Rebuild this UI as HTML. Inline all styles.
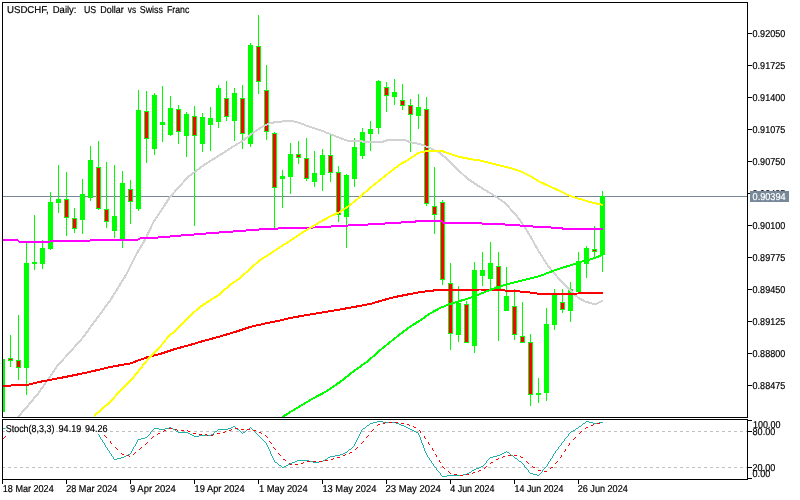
<!DOCTYPE html>
<html><head><meta charset="utf-8"><title>USDCHF Daily</title>
<style>
html,body{margin:0;padding:0;background:#fff;}
body{width:800px;height:500px;overflow:hidden;}
svg{display:block;}
text{font-family:"Liberation Sans",sans-serif;font-size:10px;fill:#000;stroke:#000;stroke-width:0.2px;text-rendering:geometricPrecision;}
.c{shape-rendering:crispEdges;}
.ma{fill:none;stroke-width:2;shape-rendering:crispEdges;stroke-linejoin:round;}
</style></head><body>
<svg width="800" height="500" viewBox="0 0 800 500">
<rect width="800" height="500" fill="#fff"/>
<defs><clipPath id="m"><rect x="3" y="3" width="744" height="414"/></clipPath><clipPath id="s"><rect x="3" y="420" width="744" height="59"/></clipPath></defs>
<g class="c">
<rect x="3" y="196" width="744" height="1" fill="#778899"/>
</g>
<g class="c" clip-path="url(#m)">
<rect x="2" y="359" width="1" height="53" fill="#0f0"/>
<rect x="0" y="359" width="5" height="53" fill="#0f0"/>
<rect x="10" y="335" width="1" height="32" fill="#0f0"/>
<rect x="8" y="358" width="5" height="3" fill="#0f0"/>
<rect x="9" y="359" width="3" height="1" fill="#f00"/>
<rect x="18" y="315" width="1" height="65" fill="#0f0"/>
<rect x="16" y="360" width="5" height="8" fill="#0f0"/>
<rect x="17" y="361" width="3" height="6" fill="#f00"/>
<rect x="26" y="243" width="1" height="152" fill="#0f0"/>
<rect x="24" y="263" width="5" height="105" fill="#0f0"/>
<rect x="34" y="215" width="1" height="55" fill="#0f0"/>
<rect x="32" y="262" width="5" height="2" fill="#0f0"/>
<rect x="42" y="240" width="1" height="29" fill="#0f0"/>
<rect x="40" y="248" width="5" height="16" fill="#0f0"/>
<rect x="50" y="192" width="1" height="58" fill="#0f0"/>
<rect x="48" y="202" width="5" height="47" fill="#0f0"/>
<rect x="58" y="165" width="1" height="48" fill="#0f0"/>
<rect x="56" y="199" width="5" height="4" fill="#0f0"/>
<rect x="66" y="172" width="1" height="64" fill="#0f0"/>
<rect x="64" y="199" width="5" height="19" fill="#0f0"/>
<rect x="65" y="200" width="3" height="17" fill="#f00"/>
<rect x="74" y="208" width="1" height="25" fill="#0f0"/>
<rect x="72" y="218" width="5" height="11" fill="#0f0"/>
<rect x="73" y="219" width="3" height="9" fill="#f00"/>
<rect x="82" y="179" width="1" height="55" fill="#0f0"/>
<rect x="80" y="194" width="5" height="26" fill="#0f0"/>
<rect x="90" y="146" width="1" height="55" fill="#0f0"/>
<rect x="88" y="160" width="5" height="38" fill="#0f0"/>
<rect x="98" y="141" width="1" height="69" fill="#0f0"/>
<rect x="96" y="167" width="5" height="42" fill="#0f0"/>
<rect x="97" y="168" width="3" height="40" fill="#f00"/>
<rect x="106" y="162" width="1" height="66" fill="#0f0"/>
<rect x="104" y="209" width="5" height="13" fill="#0f0"/>
<rect x="105" y="210" width="3" height="11" fill="#f00"/>
<rect x="114" y="165" width="1" height="73" fill="#0f0"/>
<rect x="112" y="216" width="5" height="15" fill="#0f0"/>
<rect x="122" y="171" width="1" height="77" fill="#0f0"/>
<rect x="120" y="183" width="5" height="57" fill="#0f0"/>
<rect x="130" y="180" width="1" height="44" fill="#0f0"/>
<rect x="128" y="189" width="5" height="13" fill="#0f0"/>
<rect x="129" y="190" width="3" height="11" fill="#f00"/>
<rect x="138" y="90" width="1" height="121" fill="#0f0"/>
<rect x="136" y="110" width="5" height="99" fill="#0f0"/>
<rect x="146" y="91" width="1" height="72" fill="#0f0"/>
<rect x="144" y="111" width="5" height="28" fill="#0f0"/>
<rect x="145" y="112" width="3" height="26" fill="#f00"/>
<rect x="154" y="93" width="1" height="62" fill="#0f0"/>
<rect x="152" y="95" width="5" height="54" fill="#0f0"/>
<rect x="162" y="86" width="1" height="56" fill="#0f0"/>
<rect x="160" y="122" width="5" height="3" fill="#0f0"/>
<rect x="170" y="96" width="1" height="40" fill="#0f0"/>
<rect x="168" y="108" width="5" height="27" fill="#0f0"/>
<rect x="178" y="105" width="1" height="39" fill="#0f0"/>
<rect x="176" y="109" width="5" height="23" fill="#0f0"/>
<rect x="177" y="110" width="3" height="21" fill="#f00"/>
<rect x="186" y="112" width="1" height="45" fill="#0f0"/>
<rect x="184" y="114" width="5" height="22" fill="#0f0"/>
<rect x="194" y="106" width="1" height="120" fill="#0f0"/>
<rect x="192" y="116" width="5" height="20" fill="#0f0"/>
<rect x="193" y="117" width="3" height="18" fill="#f00"/>
<rect x="202" y="113" width="1" height="39" fill="#0f0"/>
<rect x="200" y="117" width="5" height="27" fill="#0f0"/>
<rect x="210" y="107" width="1" height="44" fill="#0f0"/>
<rect x="208" y="118" width="5" height="7" fill="#0f0"/>
<rect x="218" y="85" width="1" height="43" fill="#0f0"/>
<rect x="216" y="88" width="5" height="34" fill="#0f0"/>
<rect x="226" y="81" width="1" height="40" fill="#0f0"/>
<rect x="224" y="98" width="5" height="19" fill="#0f0"/>
<rect x="225" y="99" width="3" height="17" fill="#f00"/>
<rect x="234" y="88" width="1" height="53" fill="#0f0"/>
<rect x="232" y="93" width="5" height="28" fill="#0f0"/>
<rect x="242" y="85" width="1" height="64" fill="#0f0"/>
<rect x="240" y="98" width="5" height="36" fill="#0f0"/>
<rect x="241" y="99" width="3" height="34" fill="#f00"/>
<rect x="250" y="43" width="1" height="104" fill="#0f0"/>
<rect x="248" y="45" width="5" height="99" fill="#0f0"/>
<rect x="258" y="15" width="1" height="79" fill="#0f0"/>
<rect x="256" y="46" width="5" height="36" fill="#0f0"/>
<rect x="257" y="47" width="3" height="34" fill="#f00"/>
<rect x="266" y="65" width="1" height="75" fill="#0f0"/>
<rect x="264" y="90" width="5" height="42" fill="#0f0"/>
<rect x="265" y="91" width="3" height="40" fill="#f00"/>
<rect x="274" y="132" width="1" height="96" fill="#0f0"/>
<rect x="272" y="133" width="5" height="55" fill="#0f0"/>
<rect x="273" y="134" width="3" height="53" fill="#f00"/>
<rect x="282" y="170" width="1" height="38" fill="#0f0"/>
<rect x="280" y="176" width="5" height="3" fill="#0f0"/>
<rect x="290" y="143" width="1" height="51" fill="#0f0"/>
<rect x="288" y="154" width="5" height="23" fill="#0f0"/>
<rect x="298" y="141" width="1" height="23" fill="#0f0"/>
<rect x="296" y="154" width="5" height="4" fill="#0f0"/>
<rect x="297" y="155" width="3" height="2" fill="#f00"/>
<rect x="306" y="138" width="1" height="43" fill="#0f0"/>
<rect x="304" y="158" width="5" height="21" fill="#0f0"/>
<rect x="305" y="159" width="3" height="19" fill="#f00"/>
<rect x="314" y="151" width="1" height="36" fill="#0f0"/>
<rect x="312" y="173" width="5" height="9" fill="#0f0"/>
<rect x="322" y="149" width="1" height="42" fill="#0f0"/>
<rect x="320" y="155" width="5" height="20" fill="#0f0"/>
<rect x="330" y="135" width="1" height="47" fill="#0f0"/>
<rect x="328" y="155" width="5" height="18" fill="#0f0"/>
<rect x="329" y="156" width="3" height="16" fill="#f00"/>
<rect x="338" y="166" width="1" height="56" fill="#0f0"/>
<rect x="336" y="172" width="5" height="43" fill="#0f0"/>
<rect x="337" y="173" width="3" height="41" fill="#f00"/>
<rect x="346" y="174" width="1" height="74" fill="#0f0"/>
<rect x="344" y="175" width="5" height="42" fill="#0f0"/>
<rect x="354" y="138" width="1" height="49" fill="#0f0"/>
<rect x="352" y="147" width="5" height="32" fill="#0f0"/>
<rect x="362" y="128" width="1" height="31" fill="#0f0"/>
<rect x="360" y="132" width="5" height="24" fill="#0f0"/>
<rect x="370" y="121" width="1" height="30" fill="#0f0"/>
<rect x="368" y="129" width="5" height="5" fill="#0f0"/>
<rect x="378" y="80" width="1" height="54" fill="#0f0"/>
<rect x="376" y="81" width="5" height="47" fill="#0f0"/>
<rect x="386" y="82" width="1" height="30" fill="#0f0"/>
<rect x="384" y="87" width="5" height="9" fill="#0f0"/>
<rect x="385" y="88" width="3" height="7" fill="#f00"/>
<rect x="394" y="79" width="1" height="26" fill="#0f0"/>
<rect x="392" y="92" width="5" height="5" fill="#0f0"/>
<rect x="402" y="84" width="1" height="26" fill="#0f0"/>
<rect x="400" y="100" width="5" height="6" fill="#0f0"/>
<rect x="401" y="101" width="3" height="4" fill="#f00"/>
<rect x="410" y="99" width="1" height="53" fill="#0f0"/>
<rect x="408" y="105" width="5" height="10" fill="#0f0"/>
<rect x="409" y="106" width="3" height="8" fill="#f00"/>
<rect x="418" y="94" width="1" height="35" fill="#0f0"/>
<rect x="416" y="107" width="5" height="9" fill="#0f0"/>
<rect x="426" y="97" width="1" height="109" fill="#0f0"/>
<rect x="424" y="109" width="5" height="95" fill="#0f0"/>
<rect x="425" y="110" width="3" height="93" fill="#f00"/>
<rect x="434" y="167" width="1" height="67" fill="#0f0"/>
<rect x="432" y="206" width="5" height="9" fill="#0f0"/>
<rect x="433" y="207" width="3" height="7" fill="#f00"/>
<rect x="442" y="200" width="1" height="85" fill="#0f0"/>
<rect x="440" y="202" width="5" height="78" fill="#0f0"/>
<rect x="441" y="203" width="3" height="76" fill="#f00"/>
<rect x="450" y="263" width="1" height="87" fill="#0f0"/>
<rect x="448" y="283" width="5" height="51" fill="#0f0"/>
<rect x="449" y="284" width="3" height="49" fill="#f00"/>
<rect x="458" y="286" width="1" height="56" fill="#0f0"/>
<rect x="456" y="303" width="5" height="32" fill="#0f0"/>
<rect x="466" y="301" width="1" height="42" fill="#0f0"/>
<rect x="464" y="304" width="5" height="39" fill="#0f0"/>
<rect x="465" y="305" width="3" height="37" fill="#f00"/>
<rect x="474" y="262" width="1" height="91" fill="#0f0"/>
<rect x="472" y="270" width="5" height="76" fill="#0f0"/>
<rect x="482" y="252" width="1" height="34" fill="#0f0"/>
<rect x="480" y="270" width="5" height="6" fill="#0f0"/>
<rect x="490" y="242" width="1" height="47" fill="#0f0"/>
<rect x="488" y="263" width="5" height="16" fill="#0f0"/>
<rect x="498" y="252" width="1" height="89" fill="#0f0"/>
<rect x="496" y="266" width="5" height="23" fill="#0f0"/>
<rect x="497" y="267" width="3" height="21" fill="#f00"/>
<rect x="506" y="267" width="1" height="44" fill="#0f0"/>
<rect x="504" y="296" width="5" height="15" fill="#0f0"/>
<rect x="514" y="289" width="1" height="51" fill="#0f0"/>
<rect x="512" y="306" width="5" height="29" fill="#0f0"/>
<rect x="513" y="307" width="3" height="27" fill="#f00"/>
<rect x="522" y="302" width="1" height="41" fill="#0f0"/>
<rect x="520" y="336" width="5" height="7" fill="#0f0"/>
<rect x="521" y="337" width="3" height="5" fill="#f00"/>
<rect x="530" y="334" width="1" height="72" fill="#0f0"/>
<rect x="528" y="342" width="5" height="53" fill="#0f0"/>
<rect x="529" y="343" width="3" height="51" fill="#f00"/>
<rect x="538" y="378" width="1" height="25" fill="#0f0"/>
<rect x="536" y="393" width="5" height="2" fill="#0f0"/>
<rect x="546" y="308" width="1" height="93" fill="#0f0"/>
<rect x="544" y="324" width="5" height="69" fill="#0f0"/>
<rect x="554" y="289" width="1" height="41" fill="#0f0"/>
<rect x="552" y="295" width="5" height="30" fill="#0f0"/>
<rect x="562" y="289" width="1" height="24" fill="#0f0"/>
<rect x="560" y="302" width="5" height="8" fill="#0f0"/>
<rect x="561" y="303" width="3" height="6" fill="#f00"/>
<rect x="570" y="282" width="1" height="40" fill="#0f0"/>
<rect x="568" y="289" width="5" height="22" fill="#0f0"/>
<rect x="578" y="252" width="1" height="40" fill="#0f0"/>
<rect x="576" y="261" width="5" height="31" fill="#0f0"/>
<rect x="586" y="246" width="1" height="32" fill="#0f0"/>
<rect x="584" y="248" width="5" height="16" fill="#0f0"/>
<rect x="594" y="226" width="1" height="32" fill="#0f0"/>
<rect x="592" y="249" width="5" height="3" fill="#0f0"/>
<rect x="593" y="250" width="3" height="1" fill="#f00"/>
<rect x="602" y="191" width="1" height="81" fill="#0f0"/>
<rect x="600" y="196" width="5" height="59" fill="#0f0"/>
</g>
<g clip-path="url(#m)">
<polyline class="ma" stroke="#d2d2d2" points="18,417 28.5,405 38.5,393 48.5,379 56.5,367 64.5,358 74.5,347 82.5,338 95.8,320 110.5,300 126.5,274 136.5,254 145.5,239 153.5,222 170,197 188,177 204,165 220,155 234,146 244,140 250,135 260,128 270,123 280,121.6 292,121 300,123 310,127 320,130 330,134 340,138 348,141 362,141.2 363,142 382,142 385,141 388,140 405,140 407,141 410,142 414.5,143 420,144 430,148 440,153 448,160 458,170 468,179 480,187 495,196 505,203 515,214 520,220 529,234 538,250 548,266 560,280 571,291 578,297.5 585,301.5 592,303.5 597,303.5 603,300.5"/>
<polyline class="ma" stroke="#ff00ff" points="3,240.4 18,240.4 19,241.5 50,241.5 51,240.5 90,240.5 91,239.5 138,239.5 140,238.4 160,237.4 180,235.6 200,234 220,232.4 240,231 260,229.4 280,228.4 300,227.6 315,227.5 346,225.6 370,224.4 394,223 420,221.2 442,221.5 443,222.5 458,222.5 459,223.4 480,223.4 505,224.5 520,225.5 540,227 562,228 563,229 603,229"/>
<polyline class="ma" stroke="#ff0000" points="3,386.4 10,386.4 11,385.5 26,385.2 33,383.6 40,381.8 60,378 80,374 100,369.5 110,367 130,363.5 148,357 160,354 175,349 190,345 205,340.5 220,336.5 235,332 250,327 265,323.5 280,320.5 290,318 303.6,315.6 320.4,312.8 337,310 354,307 371,303.8 382,300.4 396,296.8 410,294 421,292 430,291 437,290 460,290 480,289.5 500,290 510,291 520,291.5 530,292.5 540,294 560,294 578,293.5 580,292.5 603,292.5"/>
<polyline class="ma" stroke="#00ff00" points="282.6,416.7 298,407.4 312,399 326,391.5 340,382 354,371 368,361 382,348.6 396,337.4 410,326.8 420,320.5 430,313.5 440,308 450,304 460,301 470,298 480,294 490,290 500,286.5 510,283.5 520,281 530,278.5 540,276 550,272 560,268.5 570,265.5 580,262 590,259.5 600,256 603,254.5"/>
<polyline class="ma" stroke="#ffff00" points="94,416 110,402 120,391 133,378 144,364 150,357 160,347 168,337 176,330 186,320 190,316 200,307 206,303 218,295.5 230,285 240,278 250,269 260,260 270,254 280,247 290,241 300,234 310,228 320,222 330,216.5 340,212 350,205 360,197 370,188 380,180 390,172 400,164.5 408,160 418,153 425,151.5 435,150.5 442,151 450,154 460,157 470,159 480,160.5 490,163 500,165.5 510,168 520,171 530,176 540,182 550,186.5 560,191 570,196 580,199 590,202 603,205"/>
</g>
<g class="c" fill="#000">
<rect x="2" y="2" width="746" height="1"/>
<rect x="2" y="417" width="746" height="1"/>
<rect x="2" y="2" width="1" height="416"/>
<rect x="747" y="2" width="1" height="416"/>
<rect x="2" y="419" width="746" height="1"/>
<rect x="2" y="479" width="746" height="1"/>
<rect x="2" y="419" width="1" height="61"/>
<rect x="747" y="419" width="1" height="61"/>
<rect x="748" y="33" width="4" height="1"/>
<rect x="748" y="65" width="4" height="1"/>
<rect x="748" y="97" width="4" height="1"/>
<rect x="748" y="129" width="4" height="1"/>
<rect x="748" y="161" width="4" height="1"/>
<rect x="748" y="193" width="4" height="1"/>
<rect x="748" y="225" width="4" height="1"/>
<rect x="748" y="257" width="4" height="1"/>
<rect x="748" y="289" width="4" height="1"/>
<rect x="748" y="321" width="4" height="1"/>
<rect x="748" y="353" width="4" height="1"/>
<rect x="748" y="385" width="4" height="1"/>
<rect x="748" y="420" width="4" height="1"/>
<rect x="748" y="431" width="4" height="1"/>
<rect x="748" y="467" width="4" height="1"/>
<rect x="748" y="478" width="4" height="1"/>
<rect x="2" y="480" width="1" height="4"/>
<rect x="66" y="480" width="1" height="4"/>
<rect x="130" y="480" width="1" height="4"/>
<rect x="194" y="480" width="1" height="4"/>
<rect x="258" y="480" width="1" height="4"/>
<rect x="322" y="480" width="1" height="4"/>
<rect x="386" y="480" width="1" height="4"/>
<rect x="450" y="480" width="1" height="4"/>
<rect x="514" y="480" width="1" height="4"/>
<rect x="578" y="480" width="1" height="4"/>
</g>
<text x="752.6" y="37" textLength="32.6" lengthAdjust="spacingAndGlyphs">0.92050</text>
<text x="752.6" y="69" textLength="32.6" lengthAdjust="spacingAndGlyphs">0.91725</text>
<text x="752.6" y="101" textLength="32.6" lengthAdjust="spacingAndGlyphs">0.91400</text>
<text x="752.6" y="133" textLength="32.6" lengthAdjust="spacingAndGlyphs">0.91075</text>
<text x="752.6" y="165" textLength="32.6" lengthAdjust="spacingAndGlyphs">0.90750</text>
<text x="752.6" y="197" textLength="32.6" lengthAdjust="spacingAndGlyphs">0.90425</text>
<text x="752.6" y="229" textLength="32.6" lengthAdjust="spacingAndGlyphs">0.90100</text>
<text x="752.6" y="261" textLength="32.6" lengthAdjust="spacingAndGlyphs">0.89775</text>
<text x="752.6" y="293" textLength="32.6" lengthAdjust="spacingAndGlyphs">0.89450</text>
<text x="752.6" y="325" textLength="32.6" lengthAdjust="spacingAndGlyphs">0.89125</text>
<text x="752.6" y="357" textLength="32.6" lengthAdjust="spacingAndGlyphs">0.88800</text>
<text x="752.6" y="389" textLength="32.6" lengthAdjust="spacingAndGlyphs">0.88475</text>
<rect class="c" x="750" y="191" width="39" height="11" fill="#778899"/>
<text x="752.6" y="200" textLength="33" lengthAdjust="spacingAndGlyphs" style="fill:#fff;stroke:#fff">0.90394</text>
<g class="c" clip-path="url(#s)">
<line x1="2" y1="431.5" x2="747" y2="431.5" stroke="#c0c0c0" stroke-width="1" stroke-dasharray="3 3"/>
<line x1="2" y1="467.5" x2="747" y2="467.5" stroke="#c0c0c0" stroke-width="1" stroke-dasharray="3 3"/>
</g>
<g clip-path="url(#s)" class="c">
<path fill="#20b2aa" d="M377,421h6v1h-6zM586,421h3v1h-3zM373,422h4v1h-4zM383,422h13v1h-13zM585,422h1v1h-1zM589,422h4v1h-4zM599,422h4v1h-4zM370,423h3v1h-3zM396,423h3v1h-3zM583,423h2v1h-2zM593,423h6v1h-6zM369,424h1v1h-1zM399,424h2v1h-2zM582,424h1v1h-1zM367,425h2v1h-2zM401,425h3v1h-3zM581,425h1v1h-1zM233,426h2v1h-2zM366,426h1v1h-1zM404,426h2v1h-2zM579,426h2v1h-2zM169,427h2v1h-2zM231,427h2v1h-2zM235,427h1v1h-1zM250,427h1v1h-1zM365,427h1v1h-1zM406,427h2v1h-2zM578,427h1v1h-1zM154,428h5v1h-5zM165,428h4v1h-4zM171,428h2v1h-2zM228,428h3v1h-3zM236,428h1v1h-1zM249,428h1v1h-1zM251,428h1v1h-1zM363,428h2v1h-2zM408,428h2v1h-2zM576,428h2v1h-2zM153,429h1v1h-1zM159,429h6v1h-6zM173,429h2v1h-2zM218,429h10v1h-10zM237,429h2v1h-2zM247,429h2v1h-2zM252,429h1v1h-1zM362,429h1v1h-1zM410,429h2v1h-2zM575,429h1v1h-1zM152,430h1v1h-1zM175,430h1v1h-1zM217,430h1v1h-1zM239,430h1v1h-1zM246,430h1v1h-1zM253,430h1v1h-1zM361,430h1v1h-1zM412,430h2v1h-2zM573,430h2v1h-2zM151,431h1v1h-1zM176,431h2v1h-2zM215,431h2v1h-2zM240,431h1v1h-1zM245,431h1v1h-1zM254,431h1v1h-1zM361,431h1v1h-1zM414,431h2v1h-2zM571,431h2v1h-2zM150,432h1v1h-1zM178,432h10v1h-10zM214,432h1v1h-1zM241,432h1v1h-1zM243,432h2v1h-2zM255,432h1v1h-1zM360,432h1v1h-1zM416,432h2v1h-2zM570,432h1v1h-1zM150,433h1v1h-1zM188,433h2v1h-2zM213,433h1v1h-1zM242,433h1v1h-1zM256,433h1v1h-1zM360,433h1v1h-1zM418,433h1v1h-1zM569,433h1v1h-1zM98,434h1v1h-1zM149,434h1v1h-1zM190,434h2v1h-2zM211,434h2v1h-2zM257,434h1v1h-1zM359,434h1v1h-1zM418,434h1v1h-1zM568,434h1v1h-1zM99,435h1v1h-1zM148,435h1v1h-1zM192,435h2v1h-2zM199,435h12v1h-12zM258,435h1v1h-1zM359,435h1v1h-1zM419,435h1v1h-1zM568,435h1v1h-1zM99,436h1v1h-1zM147,436h1v1h-1zM194,436h5v1h-5zM259,436h1v1h-1zM358,436h1v1h-1zM419,436h1v1h-1zM567,436h1v1h-1zM100,437h1v1h-1zM145,437h2v1h-2zM260,437h1v1h-1zM358,437h1v1h-1zM420,437h1v1h-1zM566,437h1v1h-1zM100,438h1v1h-1zM141,438h4v1h-4zM261,438h1v1h-1zM357,438h1v1h-1zM420,438h1v1h-1zM565,438h1v1h-1zM101,439h1v1h-1zM138,439h3v1h-3zM262,439h1v1h-1zM357,439h1v1h-1zM420,439h1v1h-1zM564,439h1v1h-1zM102,440h1v1h-1zM137,440h1v1h-1zM263,440h1v1h-1zM356,440h1v1h-1zM421,440h1v1h-1zM564,440h1v1h-1zM102,441h1v1h-1zM137,441h1v1h-1zM264,441h1v1h-1zM356,441h1v1h-1zM421,441h1v1h-1zM563,441h1v1h-1zM103,442h1v1h-1zM136,442h1v1h-1zM265,442h1v1h-1zM355,442h1v1h-1zM421,442h1v1h-1zM562,442h1v1h-1zM104,443h1v1h-1zM136,443h1v1h-1zM266,443h1v1h-1zM355,443h1v1h-1zM422,443h1v1h-1zM561,443h1v1h-1zM104,444h1v1h-1zM135,444h1v1h-1zM266,444h1v1h-1zM354,444h1v1h-1zM422,444h1v1h-1zM561,444h1v1h-1zM105,445h1v1h-1zM135,445h1v1h-1zM267,445h1v1h-1zM354,445h1v1h-1zM423,445h1v1h-1zM560,445h1v1h-1zM105,446h1v1h-1zM134,446h1v1h-1zM267,446h1v1h-1zM353,446h1v1h-1zM423,446h1v1h-1zM559,446h1v1h-1zM106,447h1v1h-1zM133,447h1v1h-1zM268,447h1v1h-1zM352,447h1v1h-1zM423,447h1v1h-1zM558,447h1v1h-1zM107,448h1v1h-1zM133,448h1v1h-1zM268,448h1v1h-1zM351,448h1v1h-1zM424,448h1v1h-1zM558,448h1v1h-1zM107,449h1v1h-1zM132,449h1v1h-1zM269,449h1v1h-1zM349,449h2v1h-2zM424,449h1v1h-1zM557,449h1v1h-1zM108,450h1v1h-1zM132,450h1v1h-1zM269,450h1v1h-1zM348,450h1v1h-1zM424,450h1v1h-1zM556,450h1v1h-1zM109,451h1v1h-1zM131,451h1v1h-1zM270,451h1v1h-1zM347,451h1v1h-1zM425,451h1v1h-1zM506,451h1v1h-1zM555,451h1v1h-1zM109,452h1v1h-1zM131,452h1v1h-1zM270,452h1v1h-1zM345,452h2v1h-2zM425,452h1v1h-1zM504,452h2v1h-2zM507,452h2v1h-2zM555,452h1v1h-1zM110,453h1v1h-1zM130,453h1v1h-1zM270,453h1v1h-1zM343,453h2v1h-2zM426,453h1v1h-1zM502,453h2v1h-2zM509,453h1v1h-1zM554,453h1v1h-1zM111,454h1v1h-1zM128,454h2v1h-2zM271,454h1v1h-1zM340,454h3v1h-3zM426,454h1v1h-1zM500,454h2v1h-2zM510,454h1v1h-1zM553,454h1v1h-1zM111,455h1v1h-1zM126,455h2v1h-2zM271,455h1v1h-1zM335,455h5v1h-5zM427,455h1v1h-1zM497,455h3v1h-3zM511,455h2v1h-2zM553,455h1v1h-1zM112,456h1v1h-1zM124,456h2v1h-2zM272,456h1v1h-1zM330,456h5v1h-5zM427,456h1v1h-1zM493,456h4v1h-4zM513,456h1v1h-1zM552,456h1v1h-1zM113,457h1v1h-1zM121,457h3v1h-3zM272,457h1v1h-1zM328,457h2v1h-2zM428,457h1v1h-1zM490,457h3v1h-3zM514,457h1v1h-1zM552,457h1v1h-1zM113,458h1v1h-1zM117,458h4v1h-4zM273,458h1v1h-1zM327,458h1v1h-1zM429,458h1v1h-1zM489,458h1v1h-1zM515,458h2v1h-2zM551,458h1v1h-1zM114,459h3v1h-3zM273,459h1v1h-1zM325,459h2v1h-2zM429,459h1v1h-1zM488,459h1v1h-1zM517,459h1v1h-1zM550,459h1v1h-1zM274,460h1v1h-1zM297,460h12v1h-12zM323,460h2v1h-2zM430,460h1v1h-1zM487,460h1v1h-1zM518,460h1v1h-1zM550,460h1v1h-1zM274,461h1v1h-1zM295,461h2v1h-2zM309,461h4v1h-4zM319,461h4v1h-4zM431,461h1v1h-1zM486,461h1v1h-1zM519,461h2v1h-2zM549,461h1v1h-1zM275,462h2v1h-2zM292,462h3v1h-3zM313,462h6v1h-6zM431,462h1v1h-1zM486,462h1v1h-1zM521,462h1v1h-1zM548,462h1v1h-1zM277,463h1v1h-1zM290,463h2v1h-2zM432,463h1v1h-1zM485,463h1v1h-1zM522,463h1v1h-1zM548,463h1v1h-1zM278,464h1v1h-1zM288,464h2v1h-2zM433,464h1v1h-1zM484,464h1v1h-1zM523,464h1v1h-1zM547,464h1v1h-1zM279,465h2v1h-2zM286,465h2v1h-2zM433,465h1v1h-1zM483,465h1v1h-1zM524,465h1v1h-1zM547,465h1v1h-1zM281,466h1v1h-1zM284,466h2v1h-2zM434,466h1v1h-1zM481,466h2v1h-2zM524,466h1v1h-1zM546,466h1v1h-1zM282,467h2v1h-2zM435,467h1v1h-1zM479,467h2v1h-2zM525,467h1v1h-1zM545,467h1v1h-1zM436,468h1v1h-1zM476,468h3v1h-3zM526,468h1v1h-1zM544,468h1v1h-1zM436,469h1v1h-1zM474,469h2v1h-2zM527,469h1v1h-1zM543,469h1v1h-1zM437,470h1v1h-1zM472,470h2v1h-2zM528,470h1v1h-1zM542,470h1v1h-1zM438,471h1v1h-1zM471,471h1v1h-1zM528,471h1v1h-1zM542,471h1v1h-1zM439,472h1v1h-1zM469,472h2v1h-2zM529,472h1v1h-1zM541,472h1v1h-1zM440,473h1v1h-1zM467,473h2v1h-2zM530,473h3v1h-3zM540,473h1v1h-1zM440,474h1v1h-1zM463,474h4v1h-4zM533,474h4v1h-4zM539,474h1v1h-1zM441,475h1v1h-1zM447,475h16v1h-16zM537,475h2v1h-2zM442,476h5v1h-5z"/>
<path fill="#ff0000" d="M385,422h1v1h-1zM389,422h3v1h-3zM395,422h3v1h-3zM383,423h2v1h-2zM401,423h3v1h-3zM597,423h3v1h-3zM378,424h2v1h-2zM407,424h2v1h-2zM593,424h1v1h-1zM377,425h1v1h-1zM409,425h1v1h-1zM591,425h2v1h-2zM413,426h1v1h-1zM414,427h2v1h-2zM586,427h2v1h-2zM169,428h3v1h-3zM235,428h3v1h-3zM585,428h1v1h-1zM175,429h2v1h-2zM231,429h1v1h-1zM241,429h3v1h-3zM247,429h3v1h-3zM373,429h1v1h-1zM164,430h2v1h-2zM177,430h1v1h-1zM181,430h3v1h-3zM187,430h1v1h-1zM229,430h2v1h-2zM253,430h3v1h-3zM372,430h1v1h-1zM419,430h1v1h-1zM163,431h1v1h-1zM188,431h2v1h-2zM225,431h1v1h-1zM371,431h1v1h-1zM420,431h1v1h-1zM581,431h1v1h-1zM223,432h2v1h-2zM259,432h2v1h-2zM420,432h1v1h-1zM580,432h1v1h-1zM158,433h2v1h-2zM193,433h3v1h-3zM217,433h3v1h-3zM261,433h1v1h-1zM579,433h1v1h-1zM157,434h1v1h-1zM199,434h3v1h-3zM205,434h2v1h-2zM213,434h1v1h-1zM104,435h1v1h-1zM207,435h1v1h-1zM211,435h2v1h-2zM265,435h1v1h-1zM368,435h1v1h-1zM105,436h1v1h-1zM153,436h1v1h-1zM266,436h1v1h-1zM367,436h1v1h-1zM424,436h1v1h-1zM106,437h1v1h-1zM152,437h1v1h-1zM267,437h1v1h-1zM366,437h1v1h-1zM424,437h1v1h-1zM575,437h1v1h-1zM151,438h1v1h-1zM425,438h1v1h-1zM574,438h1v1h-1zM573,439h1v1h-1zM110,441h1v1h-1zM269,441h1v1h-1zM363,441h1v1h-1zM110,442h1v1h-1zM147,442h1v1h-1zM270,442h1v1h-1zM362,442h1v1h-1zM428,442h1v1h-1zM111,443h1v1h-1zM146,443h1v1h-1zM271,443h1v1h-1zM361,443h1v1h-1zM428,443h1v1h-1zM569,443h1v1h-1zM145,444h1v1h-1zM429,444h1v1h-1zM569,444h1v1h-1zM568,445h1v1h-1zM115,447h1v1h-1zM141,447h1v1h-1zM273,447h1v1h-1zM357,447h1v1h-1zM116,448h1v1h-1zM140,448h1v1h-1zM274,448h1v1h-1zM356,448h1v1h-1zM432,448h1v1h-1zM117,449h1v1h-1zM139,449h1v1h-1zM275,449h1v1h-1zM355,449h1v1h-1zM432,449h1v1h-1zM565,449h1v1h-1zM433,450h1v1h-1zM565,450h1v1h-1zM564,451h1v1h-1zM135,452h1v1h-1zM350,452h2v1h-2zM121,453h1v1h-1zM134,453h1v1h-1zM278,453h1v1h-1zM349,453h1v1h-1zM122,454h2v1h-2zM133,454h1v1h-1zM279,454h1v1h-1zM345,454h1v1h-1zM435,454h1v1h-1zM127,455h2v1h-2zM280,455h1v1h-1zM343,455h2v1h-2zM436,455h1v1h-1zM508,455h3v1h-3zM514,455h3v1h-3zM561,455h1v1h-1zM129,456h1v1h-1zM436,456h1v1h-1zM503,456h2v1h-2zM520,456h1v1h-1zM561,456h1v1h-1zM337,457h3v1h-3zM502,457h1v1h-1zM521,457h2v1h-2zM560,457h1v1h-1zM333,458h1v1h-1zM498,458h1v1h-1zM283,459h2v1h-2zM331,459h2v1h-2zM496,459h2v1h-2zM285,460h1v1h-1zM325,460h3v1h-3zM439,460h1v1h-1zM307,461h3v1h-3zM313,461h3v1h-3zM319,461h3v1h-3zM439,461h1v1h-1zM526,461h1v1h-1zM557,461h1v1h-1zM303,462h1v1h-1zM440,462h1v1h-1zM491,462h2v1h-2zM527,462h1v1h-1zM556,462h1v1h-1zM289,463h1v1h-1zM301,463h2v1h-2zM490,463h1v1h-1zM528,463h1v1h-1zM555,463h1v1h-1zM290,464h2v1h-2zM295,464h3v1h-3zM442,466h1v1h-1zM486,466h1v1h-1zM532,466h1v1h-1zM443,467h1v1h-1zM485,467h1v1h-1zM533,467h2v1h-2zM551,467h2v1h-2zM444,468h1v1h-1zM484,468h1v1h-1zM550,468h1v1h-1zM479,470h2v1h-2zM538,470h3v1h-3zM448,471h1v1h-1zM478,471h1v1h-1zM544,471h3v1h-3zM449,472h1v1h-1zM473,472h2v1h-2zM450,473h1v1h-1zM472,473h1v1h-1zM454,474h3v1h-3zM466,474h3v1h-3zM460,475h3v1h-3z"/>
<rect x="3" y="428" width="3" height="1" fill="#20b2aa"/>
<path fill="#ff0000" d="M3,438h1v1h-1zM4,437h1v1h-1zM5,436h1v1h-1z"/>
</g>
<text x="753" y="428" textLength="27.4" lengthAdjust="spacingAndGlyphs">100.00</text>
<text x="752.6" y="435" textLength="22.6" lengthAdjust="spacingAndGlyphs">80.00</text>
<text x="752.6" y="471" textLength="22.6" lengthAdjust="spacingAndGlyphs">20.00</text>
<text x="752.6" y="477" textLength="17.6" lengthAdjust="spacingAndGlyphs">0.00</text>
<rect x="5.5" y="423" width="49.4" height="11" fill="#fff"/>
<text x="5.7" y="432" textLength="48.8" lengthAdjust="spacingAndGlyphs">Stoch(8,3,3)</text>
<rect x="58.4" y="423" width="23.200000000000003" height="11" fill="#fff"/>
<text x="58.6" y="432" textLength="22.6" lengthAdjust="spacingAndGlyphs">94.19</text>
<rect x="84.8" y="423" width="23.200000000000003" height="11" fill="#fff"/>
<text x="85" y="432" textLength="22.6" lengthAdjust="spacingAndGlyphs">94.26</text>
<text x="7" y="13" textLength="41.75" lengthAdjust="spacingAndGlyphs">USDCHF,</text>
<text x="52.75" y="13" textLength="23.75" lengthAdjust="spacingAndGlyphs">Daily:</text>
<text x="84" y="13" textLength="12.25" lengthAdjust="spacingAndGlyphs">US</text>
<text x="100.3" y="13" textLength="23.4" lengthAdjust="spacingAndGlyphs">Dollar</text>
<text x="127.8" y="13" textLength="8.2" lengthAdjust="spacingAndGlyphs">vs</text>
<text x="139.8" y="13" textLength="23.1" lengthAdjust="spacingAndGlyphs">Swiss</text>
<text x="167" y="13" textLength="22.3" lengthAdjust="spacingAndGlyphs">Franc</text>
<text x="2.8" y="492" textLength="50.9" lengthAdjust="spacingAndGlyphs">18 Mar 2024</text>
<text x="66.2" y="492" textLength="51.2" lengthAdjust="spacingAndGlyphs">28 Mar 2024</text>
<text x="130" y="492" textLength="45.8" lengthAdjust="spacingAndGlyphs">9 Apr 2024</text>
<text x="194.6" y="492" textLength="50.1" lengthAdjust="spacingAndGlyphs">19 Apr 2024</text>
<text x="258.9" y="492" textLength="48.8" lengthAdjust="spacingAndGlyphs">1 May 2024</text>
<text x="322.4" y="492" textLength="54" lengthAdjust="spacingAndGlyphs">13 May 2024</text>
<text x="385.5" y="492" textLength="55.3" lengthAdjust="spacingAndGlyphs">23 May 2024</text>
<text x="450.2" y="492" textLength="44.3" lengthAdjust="spacingAndGlyphs">4 Jun 2024</text>
<text x="514.6" y="492" textLength="48.8" lengthAdjust="spacingAndGlyphs">14 Jun 2024</text>
<text x="577.7" y="492" textLength="50.1" lengthAdjust="spacingAndGlyphs">26 Jun 2024</text>
</svg></body></html>
